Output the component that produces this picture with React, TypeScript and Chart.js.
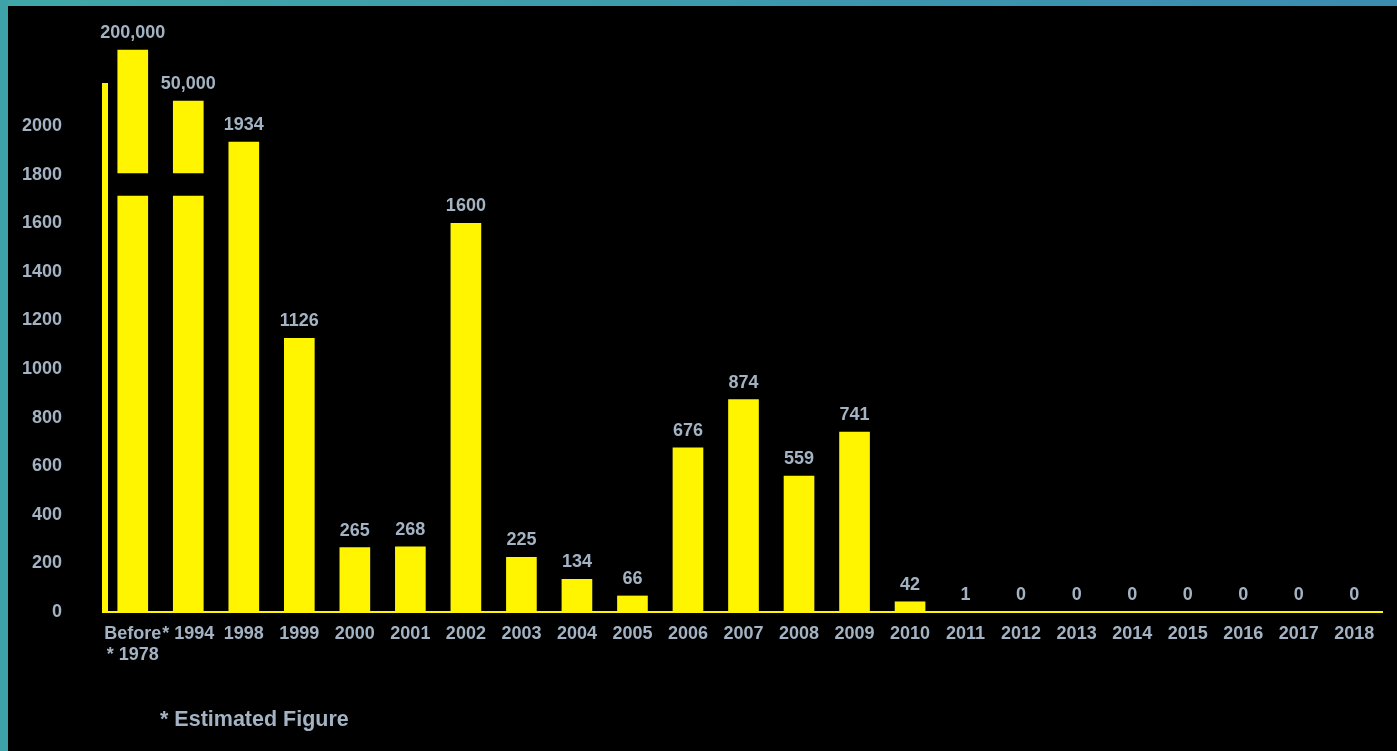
import React, { useEffect, useRef } from "react";
import { Chart, registerables } from "chart.js";

Chart.register(...registerables);

// ---- data ----
const categories: (string | string[])[] = [
  ["Before", "* 1978"], "* 1994", "1998", "1999", "2000", "2001", "2002", "2003",
  "2004", "2005", "2006", "2007", "2008", "2009", "2010", "2011", "2012", "2013",
  "2014", "2015", "2016", "2017", "2018",
];
const seriesValues = [
  200000, 50000, 1934, 1126, 265, 268, 1600, 225, 134, 66, 676, 874, 559, 741, 42, 1,
  0, 0, 0, 0, 0, 0, 0,
];
const valueLabels = [
  "200,000", "50,000", "1934", "1126", "265", "268", "1600", "225", "134", "66",
  "676", "874", "559", "741", "42", "1", "0", "0", "0", "0", "0", "0", "0",
];
const yTickValues = [0, 200, 400, 600, 800, 1000, 1200, 1400, 1600, 1800, 2000];
const yAxisMax = 2165;
// broken-axis gap (in axis units) and the capped tops drawn for off-scale bars
const axisBreak = [1712, 1807];
const cappedTops = [2313, 2103];

const YELLOW = "#fff500";
const TEXT = "#a3b3c3";
const FONT_FAMILY = '"Liberation Sans", Arial, sans-serif';

export default function App() {
  const ref = useRef<HTMLCanvasElement>(null);

  useEffect(() => {
    document.body.style.margin = "0";
    const canvas = ref.current!;

    let k = 0;
    const lowerData = seriesValues.map((v) => (v > yAxisMax ? [0, axisBreak[0]] : v));
    const upperData = seriesValues.map((v) =>
      v > yAxisMax ? [axisBreak[1], cappedTops[k++]] : null
    );

    const labelPlugin = {
      id: "valueLabels",
      afterDatasetsDraw(chart: any) {
        const ctx = chart.ctx;
        const lower = chart.getDatasetMeta(0).data;
        const upper = chart.getDatasetMeta(1).data;
        ctx.save();
        ctx.fillStyle = TEXT;
        ctx.font = `bold 18px ${FONT_FAMILY}`;
        ctx.textAlign = "center";
        ctx.textBaseline = "bottom";
        valueLabels.forEach((txt, i) => {
          const el = upperData[i] ? upper[i] : lower[i];
          if (!el) return;
          ctx.fillText(txt, el.x, el.y - 8);
        });
        ctx.restore();
      },
    };

    const chart = new Chart(canvas, {
      type: "bar",
      data: {
        labels: categories as any,
        datasets: [
          {
            data: lowerData as any,
            backgroundColor: YELLOW,
            borderWidth: 0,
            barThickness: 30,
            grouped: false,
            clip: false as any,
          },
          {
            data: upperData as any,
            backgroundColor: YELLOW,
            borderWidth: 0,
            barThickness: 30,
            grouped: false,
            clip: false as any,
          },
        ],
      },
      options: {
        animation: false,
        responsive: false,
        maintainAspectRatio: false,
        layout: { padding: { left: 0, top: 86, right: 15, bottom: 0 } },
        plugins: {
          legend: { display: false },
          tooltip: { enabled: false },
        },
        scales: {
          x: {
            type: "category",
            offset: true,
            grid: { display: false, drawTicks: false },
            border: { display: true, color: YELLOW, width: 2 },
            ticks: {
              color: TEXT,
              font: { family: FONT_FAMILY, size: 18, weight: "bold" },
              padding: 11,
              autoSkip: false,
              maxRotation: 0,
              minRotation: 0,
            },
            afterFit: (s: any) => {
              s.height = 139;
            },
          },
          y: {
            type: "linear",
            min: 0,
            max: yAxisMax,
            grid: { display: false, drawTicks: false },
            border: { display: true, color: YELLOW, width: 6 },
            ticks: {
              color: TEXT,
              font: { family: FONT_FAMILY, size: 18, weight: "bold" },
              padding: 43,
              callback: (v: any) => String(v),
            },
            afterBuildTicks: (s: any) => {
              s.ticks = yTickValues.map((value) => ({ value }));
            },
            afterFit: (s: any) => {
              s.width = 105;
            },
          },
        },
      },
      plugins: [labelPlugin],
    });
    return () => chart.destroy();
  }, []);

  return (
    <div
      style={{
        position: "fixed",
        left: 0,
        top: 0,
        width: 1397,
        height: 751,
        background: "linear-gradient(90deg, #40a7a7, #3a8cb1)",
        overflow: "hidden",
      }}
    >
      <div style={{ position: "absolute", left: 0, top: 0, width: 8, bottom: 0, background: "#3ea2a9" }} />
      <div style={{ position: "absolute", left: 8, top: 6, right: 0, bottom: 0, background: "#000" }} />
      <canvas ref={ref} width={1397} height={751} style={{ position: "absolute", left: 0, top: 0 }} />
      <div
        style={{
          position: "absolute",
          left: 160,
          top: 707,
          color: TEXT,
          font: `bold 21.5px ${FONT_FAMILY}`,
          whiteSpace: "nowrap",
        }}
      >
        * Estimated Figure
      </div>
    </div>
  );
}
